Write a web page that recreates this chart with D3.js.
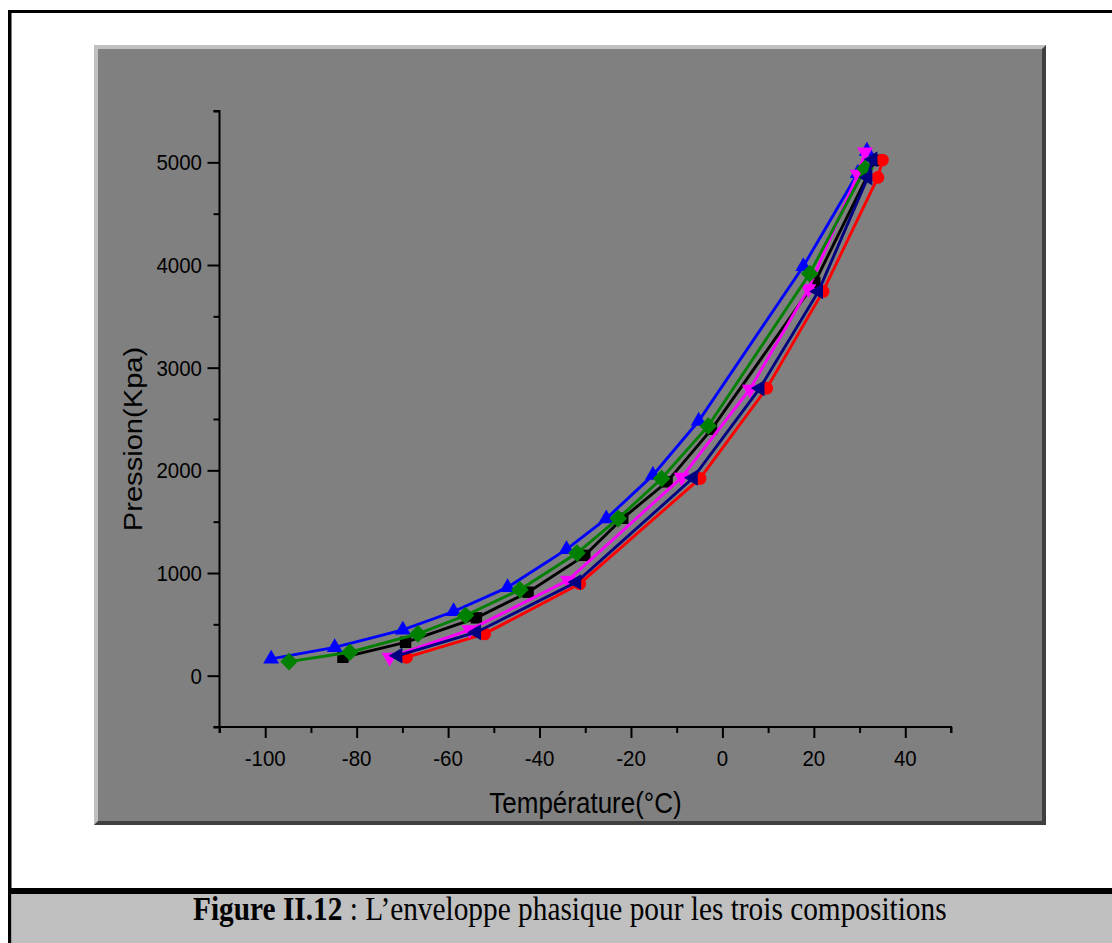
<!DOCTYPE html>
<html><head><meta charset="utf-8">
<script src="https://cdn.jsdelivr.net/npm/d3@7"></script>
<style>html,body{margin:0;padding:0;background:#fff;overflow:hidden}</style>
</head><body>
<svg id="c" width="1112" height="943"></svg>
<script>
// ---- data ----
const xTicks = [-100, -80, -60, -40, -20, 0, 20, 40];
const yTicks = [0, 1000, 2000, 3000, 4000, 5000];
const blackT = [-83.0, -69.3, -53.8, -42.5, -30.1, -21.8, -12.1, -2.4, 20.2, 33.4];
const blackP = [179, 325, 563, 813, 1172, 1533, 1888, 2399, 3830, 5020];
const redT = [-69.1, -52.0, -31.2, -4.9, 9.7, 22.0, 34.0, 35.0];
const redP = [179, 407, 896, 1921, 2800, 3743, 4853, 5022];
const blueT = [-98.7, -84.8, -69.9, -58.8, -47.0, -34.1, -25.4, -15.2, -5.2, 17.7, 29.6, 31.6];
const blueP = [163, 276, 446, 625, 860, 1230, 1530, 1953, 2480, 3987, 4893, 5110];
const magentaT = [-72.8, -55.3, -33.8, -8.9, 6.0, 18.8, 29.6, 31.2];
const magentaP = [179, 446, 928, 1931, 2790, 3767, 4883, 5100];
const greenT = [-94.8, -81.5, -66.6, -56.2, -44.3, -31.8, -22.8, -13.3, -3.1, 19.1, 31.2];
const greenP = [137, 228, 407, 586, 837, 1194, 1530, 1921, 2432, 3916, 4940];
const navyT = [-71.0, -53.8, -31.9, -6.4, 8.2, 21.0, 31.8, 32.9];
const navyP = [195, 423, 911, 1927, 2800, 3743, 4853, 5029];
const xTitle = "Température(°C)";
const yTitle = "Pression(Kpa)";
const captionBold = "Figure II.12";
const captionRest = " : L\u2019enveloppe phasique pour les trois compositions";

const svg = d3.select("#c");
const SY = 1.12; // vertical stretch of the text in the picture

// outer frame
svg.append("rect").attr("x", 0).attr("y", 0).attr("width", 1112).attr("height", 943).attr("fill", "#fff");
svg.append("rect").attr("x", 8).attr("y", 10).attr("width", 1104).attr("height", 3).attr("fill", "#000");
svg.append("rect").attr("x", 8).attr("y", 10).attr("width", 3.5).attr("height", 933).attr("fill", "#000");
// caption box
svg.append("rect").attr("x", 8).attr("y", 888).attr("width", 1104).attr("height", 6).attr("fill", "#000");
svg.append("rect").attr("x", 11.5).attr("y", 894).attr("width", 1100.5).attr("height", 49).attr("fill", "#c0c0c0");

// gray panel with bevel
svg.append("rect").attr("x", 94).attr("y", 45).attr("width", 952).attr("height", 780).attr("fill", "#404040");
svg.append("polygon").attr("points", "94,45 1046,45 1042,49 98,49 98,821 94,825").attr("fill", "#c0c0c0");
svg.append("rect").attr("x", 98).attr("y", 49).attr("width", 944).attr("height", 772).attr("fill", "#808080");

// scales
const x = d3.scaleLinear().domain([-110, 50]).range([219.5, 951]);
const y = d3.scaleLinear().domain([-500, 5500]).range([727, 111]);

// axes
const gx = svg.append("g").attr("transform", "translate(0,727)");
gx.call(d3.axisBottom(x).tickValues(d3.range(-110, 51, 10)).tickSize(6).tickFormat(""));
gx.call(g => g.selectAll(".tick").filter(d => xTicks.includes(d)).select("line").attr("y2", 11));
gx.selectAll("path,line").attr("stroke", "#000").attr("stroke-width", 2);
gx.select(".domain").attr("d", `M${x(-110)},6V0H${x(50)}V6`);

const gy = svg.append("g").attr("transform", "translate(219.5,0)");
gy.call(d3.axisLeft(y).tickValues(d3.range(-500, 5501, 500)).tickSize(6).tickFormat(""));
gy.call(g => g.selectAll(".tick").filter(d => yTicks.includes(d)).select("line").attr("x2", -12));
gy.selectAll("path,line").attr("stroke", "#000").attr("stroke-width", 2);
gy.select(".domain").attr("d", `M-6,${y(5500)}H0V${y(-500)}H-6`);

const font = "'Liberation Sans', Arial, sans-serif";
xTicks.forEach(v => {
  svg.append("text").attr("transform", `translate(${x(v)},766) scale(1,${SY})`)
    .attr("text-anchor", "middle").attr("font-family", font).attr("font-size", 20.5).attr("fill", "#000").text(v);
});
yTicks.forEach(v => {
  svg.append("text").attr("transform", `translate(202,${y(v) + 8}) scale(1,${SY})`)
    .attr("text-anchor", "end").attr("font-family", font).attr("font-size", 20.5).attr("fill", "#000").text(v);
});
svg.append("text").attr("transform", `translate(585.5,813) scale(1,${SY})`)
  .attr("text-anchor", "middle").attr("font-family", font).attr("font-size", 26).attr("fill", "#000").text(xTitle);
svg.append("text").attr("transform", `translate(141.5,439) scale(1,${SY}) rotate(-90)`)
  .attr("text-anchor", "middle").attr("font-family", font).attr("font-size", 26).attr("fill", "#000").text(yTitle);

// series
const series = [
  {T: blackT, P: blackP, color: "#000000", sym: d3.symbolSquare, size: 130, rot: 0},
  {T: redT, P: redP, color: "#ff0000", sym: d3.symbolCircle, size: 130, rot: 0},
  {T: blueT, P: blueP, color: "#0000ff", sym: d3.symbolTriangle, size: 110, rot: 0},
  {T: magentaT, P: magentaP, color: "#ff00ff", sym: d3.symbolTriangle, size: 110, rot: 180},
  {T: greenT, P: greenP, color: "#008000", sym: d3.symbolSquare, size: 155, rot: 45},
  {T: navyT, P: navyP, color: "#000080", sym: d3.symbolTriangle, size: 110, rot: -90}
];
const line = d3.line().x(d => x(d[0])).y(d => y(d[1]));
series.forEach(s => {
  const pts = s.T.map((t, i) => [t, s.P[i]]);
  const g = svg.append("g");
  g.append("path").attr("d", line(pts)).attr("fill", "none").attr("stroke", s.color).attr("stroke-width", 2.9);
  g.selectAll("path.m").data(pts).enter().append("path").attr("class", "m")
    .attr("d", d3.symbol().type(s.sym).size(s.size))
    .attr("transform", d => `translate(${x(d[0])},${y(d[1])}) rotate(${s.rot})`)
    .attr("fill", s.color);
});

// caption
const cap = svg.append("text").attr("x", 193).attr("y", 0)
  .attr("font-family", "'Liberation Serif', 'Times New Roman', serif").attr("font-size", 24).attr("fill", "#000");
cap.append("tspan").attr("font-weight", "bold").text(captionBold);
cap.append("tspan").text(captionRest);
const w = cap.node().getComputedTextLength();
const fs = 24 * 754 / w;
cap.attr("font-size", fs).attr("x", 0).attr("transform", `translate(193,920) scale(1,${SY})`);
</script>
</body></html>
